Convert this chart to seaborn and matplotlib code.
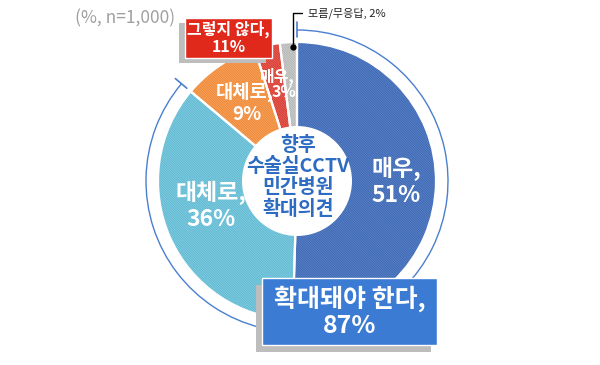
import matplotlib
matplotlib.use("Agg")
import matplotlib.pyplot as plt
import seaborn as sns
import numpy as np
from matplotlib.patches import Rectangle, Arc, Circle

# ---- data ----
categories = ["매우 (확대)", "대체로 (확대)", "대체로 (반대)", "매우 (반대)", "모름/무응답"]
values = [51, 36, 9, 3, 2]
slice_labels = ["매우,\n51%", "대체로,\n36%", "대체로,\n9%", "매우,\n3%", ""]
group_agree_label = "확대돼야 한다,\n87%"
group_disagree_label = "그렇지 않다,\n11%"
dk_label = "모름/무응답, 2%"
center_label = "향후\n수술실CCTV\n민간병원\n확대의견"
note_label = "(%, n=1,000)"

face_colors = ["#3c66b0", "#5cb8d1", "#ee8630", "#d63a2f", "#b3b3b3"]
hatch_colors = ["#5a83c9", "#84cce0", "#f6a463", "#e6625a", "#cecece"]

sns.set_theme(style="white")
plt.rcParams["font.family"] = ["Noto Sans CJK KR", "DejaVu Sans"]
plt.rcParams["hatch.linewidth"] = 0.6

W, H = 600, 365
fig = plt.figure(figsize=(6, 3.65), dpi=100)
ax = fig.add_axes([0, 0, 1, 1])
ax.set_xlim(0, W)
ax.set_ylim(0, H)
ax.set_aspect("equal")
ax.axis("off")

def Y(y):
    return H - y

cx, cy = 297, 181
R = 139
r_hole = 55

# hatched wedges
wedges, _ = ax.pie(values, startangle=90, counterclock=False, center=(cx, Y(cy)),
                   radius=R, colors=face_colors,
                   wedgeprops=dict(linewidth=0, width=R - r_hole + 2))
for w, hc in zip(wedges, hatch_colors):
    w.set_edgecolor(hc)
    w.set_hatch("\\" * 14)
    w.set_linewidth(0)
# white separators on top
ax.pie(values, startangle=90, counterclock=False, center=(cx, Y(cy)),
       radius=R, colors=["none"] * len(values),
       wedgeprops=dict(linewidth=1.6, edgecolor="white", fill=False,
                       width=R - r_hole + 2))
ax.add_patch(Circle((cx, Y(cy)), r_hole, facecolor="white", edgecolor="none", zorder=3))
ax.set_xlim(0, W)
ax.set_ylim(0, H)

# outer arc for agree group
total = sum(values)
frac = (values[0] + values[1]) / total
Ra = 151
theta_end = 90 - 360 * frac
ax.add_patch(Arc((cx, Y(cy)), 2 * Ra, 2 * Ra, theta1=theta_end, theta2=90,
                 color="#4a7fd0", lw=1.0, zorder=2))
for ang in (90, theta_end):
    t = np.deg2rad(ang)
    ax.plot([cx + 144 * np.cos(t), cx + 159 * np.cos(t)],
            [Y(cy) + 144 * np.sin(t), Y(cy) + 159 * np.sin(t)],
            color="#4a7fd0", lw=1.2, zorder=2)

# slice labels
txt_kw = dict(color="white", fontweight="bold", ha="center", va="center",
              linespacing=1.2, zorder=5)
ax.text(396, Y(182), slice_labels[0], fontsize=16.5, **txt_kw)
ax.text(211, Y(206), slice_labels[1], fontsize=16.5, **txt_kw)
l9 = slice_labels[2].split("\n")
l3 = slice_labels[3].split("\n")
ax.text(245, Y(92), l9[0], fontsize=13.5, **txt_kw)
ax.text(247, Y(115), l9[1], fontsize=13.5, **txt_kw)
ax.text(277, Y(76), l3[0], fontsize=11.5, **txt_kw)
ax.text(284.5, Y(92), l3[1], fontsize=11.5, **txt_kw)

# center text
ax.text(cx + 1, Y(177), center_label, color="#2d6cc2", fontsize=14,
        fontweight="bold", ha="center", va="center", linespacing=1.15, zorder=5)

# note
ax.text(75, Y(18), note_label, color="#a0a0a0", fontsize=12.5, ha="left", va="center")

# don't know label with leader
ax.plot([293, 293, 302], [Y(47), Y(13), Y(13)], color="black", lw=1.0, zorder=6)
ax.plot([293], [Y(47)], marker="o", color="black", markersize=3.5, zorder=6)
ax.text(308, Y(13), dk_label, color="#222222", fontsize=8, ha="left", va="center")

# red box
ax.add_patch(Rectangle((179, Y(63)), 87, 40, facecolor="#bdbdbd", edgecolor="none", zorder=6))
ax.add_patch(Rectangle((185, Y(58)), 87, 40, facecolor="#e0281b", edgecolor="white",
                       lw=1, zorder=7))
ax.text(228.5, Y(38), group_disagree_label, color="white", fontsize=11.5,
        fontweight="bold", ha="center", va="center", linespacing=1.1, zorder=8)

# blue box
ax.add_patch(Rectangle((256, Y(352)), 175, 67, facecolor="#bdbdbd", edgecolor="none", zorder=6))
ax.add_patch(Rectangle((262, Y(345)), 175, 67, facecolor="#3b7bd4", edgecolor="white",
                       lw=1, zorder=7))
ax.text(349.5, Y(312), group_agree_label, color="white", fontsize=18,
        fontweight="bold", ha="center", va="center", linespacing=1.1, zorder=8)

fig.savefig("out.png", dpi=100)
